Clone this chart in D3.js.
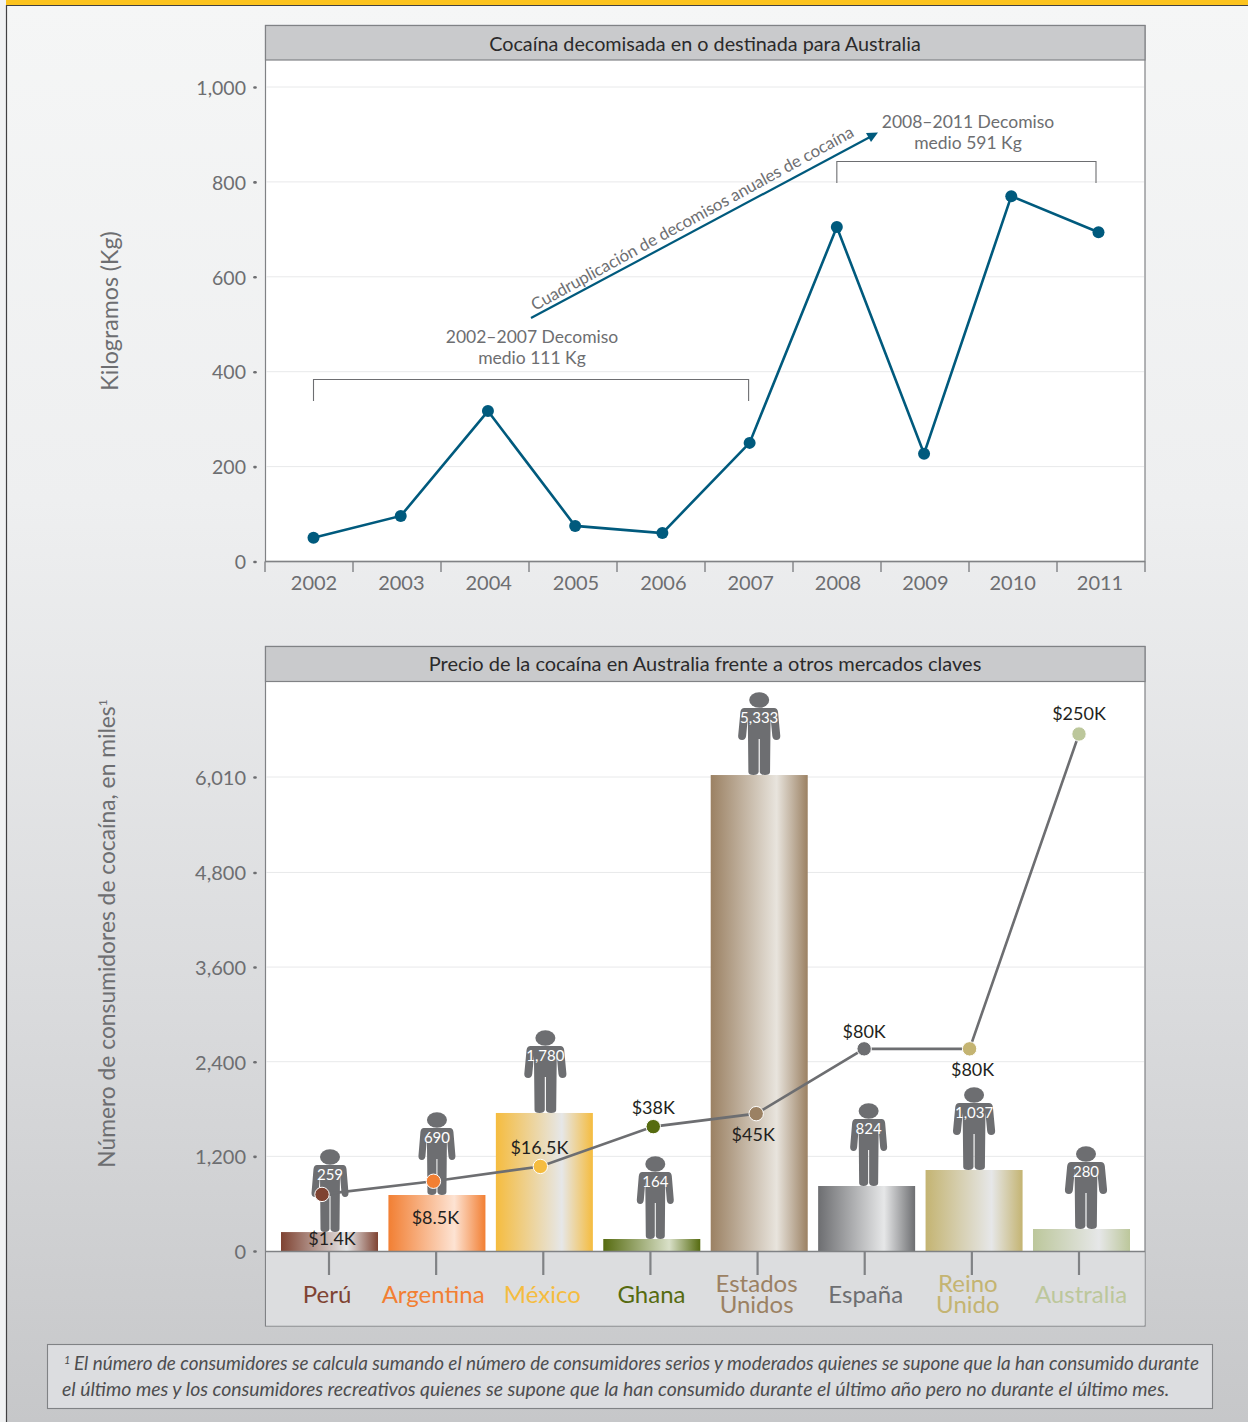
<!DOCTYPE html>
<html lang="es">
<head>
<meta charset="utf-8">
<script src="https://cdn.jsdelivr.net/npm/d3@7"></script>
<style>
html,body{margin:0;padding:0;background:#f1f2f3}
svg{display:block}
text{font-family:Lato,"Open Sans",sans-serif}
</style>
</head>
<body>
<svg id="c" width="1248" height="1422"></svg>
<script>
// ---- data ----
const years = [2002,2003,2004,2005,2006,2007,2008,2009,2010,2011];
const seizuresKg = [50,96,317,75,60,250,705,227,770,694];
const seizureTicks = [0,200,400,600,800,1000];
const countries = ["Perú","Argentina","México","Ghana","Estados Unidos","España","Reino Unido","Australia"];
const barHeights = [240,710,1750,152,6035,824,1027,279];
const consumerLabels = ["259","690","1,780","164","5,333","824","1,037","280"];
const priceK = [1.4,8.5,16.5,38,45,80,80,250];
const priceLabels = ["$1.4K","$8.5K","$16.5K","$38K","$45K","$80K","$80K","$250K"];
const consumerTicks = [0,1200,2400,3600,4800,6010];
const countryColors = ["#7f4332","#f27f33","#f5bc3f","#566b10","#9b8163","#6d6e71","#c4b472","#bcc79b"];
const countryHighlights = ["#e6e7e8","#fde3d3","#e6e7e8","#d9e0c8","#e8e4dd","#e6e7e8","#e6e7e8","#e6e7e8"];

// ---- drawing ----
const svg = d3.select("#c");
const defs = svg.append("defs");
const GREY = "#6d6e71", LINE = "#808285", BLUE = "#005a7d", GRID = "#e8e9ea";

const bg = defs.append("linearGradient").attr("id","bg").attr("x1",0).attr("y1",0).attr("x2",0).attr("y2",1);
[[0,"#f5f6f6"],[0.35,"#eeeff0"],[0.7,"#dadbdd"],[1,"#c6c7c9"]].forEach(s=>bg.append("stop").attr("offset",s[0]).attr("stop-color",s[1]));
countries.forEach((c,i)=>{
  const g = defs.append("linearGradient").attr("id","bar"+i);
  g.append("stop").attr("offset",0).attr("stop-color",countryColors[i]);
  g.append("stop").attr("offset",0.68).attr("stop-color",countryHighlights[i]);
  g.append("stop").attr("offset",1).attr("stop-color",countryColors[i]);
});

// page frame
svg.append("rect").attr("width",1248).attr("height",1422).attr("fill","#f1f2f3");
svg.append("rect").attr("x",6).attr("y",5).attr("width",1242).attr("height",1417).attr("fill","url(#bg)");
svg.append("rect").attr("x",6).attr("y",0).attr("width",1242).attr("height",5).attr("fill","#fcc31e");
svg.append("path").attr("d","M1248,5.5H6.5V1422").attr("fill","none").attr("stroke","#414042").attr("stroke-width",1.2);

function panel(top, headH, bottom, title, size){
  svg.append("rect").attr("x",265.5).attr("y",top).attr("width",879.5).attr("height",bottom-top).attr("fill","#fff").attr("stroke",LINE).attr("stroke-width",1.2);
  svg.append("rect").attr("x",265.5).attr("y",top).attr("width",879.5).attr("height",headH).attr("fill","#c9cacc").attr("stroke",LINE).attr("stroke-width",1.2);
  svg.append("text").attr("x",705).attr("y",top+headH/2+6.5).attr("text-anchor","middle")
    .attr("font-size",size).attr("fill","#2b2a2b").text(title);
}

// ---- top chart ----
panel(25.5,34.5,561.5,"Cocaína decomisada en o destinada para Australia",19.8);
svg.select("text").attr("y",50.5);
const yTop = d3.scaleLinear().domain([0,1000]).range([561.5,87]);
const xTop = d3.scalePoint().domain(years).range([313.5,1099.5]);
const xMark = d3.scalePoint().domain(years).range([313.5,1098.5]);
const xTopBand = d3.scaleBand().domain(years).range([265,1145]);

svg.append("g").selectAll("line").data(seizureTicks.slice(1)).join("line")
  .attr("x1",266).attr("x2",1144).attr("y1",d=>yTop(d)).attr("y2",d=>yTop(d)).attr("stroke",GRID).attr("stroke-width",1);

function styleLeftAxis(g){
  g.select(".domain").remove();
  g.selectAll(".tick line").attr("x1",-10.5).attr("x2",-9.5).attr("stroke",GREY).attr("stroke-width",2.6).attr("stroke-linecap","round");
  g.selectAll(".tick text").attr("x",-19).attr("y",1).attr("fill",GREY);
}
svg.append("g").attr("transform","translate(265,0)")
  .call(d3.axisLeft(yTop).tickValues(seizureTicks).tickFormat(d3.format(",")))
  .call(styleLeftAxis).attr("font-size",19.5).attr("font-family","Lato");

// x axis: labels on the points, tick separators on the year bands
svg.append("line").attr("x1",265).attr("x2",1145).attr("y1",561.5).attr("y2",561.5).attr("stroke",LINE).attr("stroke-width",1.4);
svg.append("g").selectAll("line").data([...years.map(y=>xTopBand(y)),1145]).join("line")
  .attr("x1",d=>d).attr("x2",d=>d).attr("y1",561.5).attr("y2",572).attr("stroke",LINE).attr("stroke-width",1.4);
svg.append("g").attr("transform","translate(0,561.5)")
  .call(d3.axisBottom(xTop).tickSize(0).tickPadding(14))
  .call(g=>{g.select(".domain").remove();g.selectAll(".tick text").attr("fill",GREY);})
  .attr("font-size",20).attr("font-family","Lato");

svg.append("text").attr("transform","translate(118,311) rotate(-90)").attr("text-anchor","middle")
  .attr("font-size",23.2).attr("fill",GREY).text("Kilogramos (Kg)");

const seizureRows = years.map((y,i)=>({y,v:seizuresKg[i]}));
svg.append("path").datum(seizureRows)
  .attr("d",d3.line().x(d=>xMark(d.y)).y(d=>yTop(d.v)))
  .attr("fill","none").attr("stroke",BLUE).attr("stroke-width",2.6);
svg.append("g").selectAll("circle").data(seizureRows).join("circle")
  .attr("cx",d=>xMark(d.y)).attr("cy",d=>yTop(d.v)).attr("r",6).attr("fill",BLUE);

// annotations
function bracket(y0,y1,top,drop,endShift){
  svg.append("path").attr("d",`M${xMark(y0)},${top+drop}V${top}H${xMark(y1)+endShift}V${top+drop}`)
    .attr("fill","none").attr("stroke",GREY).attr("stroke-width",1.1);
}
bracket(2002,2007,379.5,21.5,-1);
bracket(2008,2011,161.5,21.5,-2.5);
function note(x,y,lines){
  lines.forEach((t,i)=>svg.append("text").attr("x",x).attr("y",y+i*21).attr("text-anchor","middle")
    .attr("font-size",17.5).attr("fill",GREY).text(t));
}
note(532,343,["2002–2007 Decomiso","medio 111 Kg"]);
note(968,128,["2008–2011 Decomiso","medio 591 Kg"]);
svg.append("line").attr("x1",531).attr("y1",318).attr("x2",870).attr("y2",137).attr("stroke",BLUE).attr("stroke-width",2.2);
svg.append("path").attr("d","M878,132.5L866,133L871,142Z").attr("fill",BLUE);
svg.append("text").attr("transform","translate(535,311) rotate(-28.7)").attr("font-size",16.8).attr("fill",GREY)
  .text("Cuadruplicación de decomisos anuales de cocaína");

// ---- bottom chart ----
panel(646.5,35,1326,"Precio de la cocaína en Australia frente a otros mercados claves",20);
svg.append("rect").attr("x",266).attr("y",1251).attr("width",878.5).attr("height",74.5).attr("fill","#dcdddf");
const yBar = d3.scaleLinear().domain([0,6010]).range([1251,777]);
const xBar = d3.scaleBand().domain(countries).range([281,1130]).paddingInner(0.097);
const xTick = d3.scalePoint().domain(countries).range([329,1079]);
const yPrice = d3.scaleLinear().domain([0,250]).range([1197,734]);
const barMid = c => xBar(c)+xBar.bandwidth()/2;
// small layout nudges away from the bar centre, as in the source graphic
const dotNudge = [-7.5,-3.5,-4,1.5,-3,-2.5,-4.5,-2.5];
const personNudge = [0.5,0,1,3.5,0,2,0,4.5];
const catNudge = [-2,-3,-1,1,-1,1,-4,2];
const priceLabelOffset = [[10,51],[2,43],[-1,-12],[0,-13],[-3,27],[0,-11],[3,27],[0,-14]];

svg.append("g").selectAll("line").data(consumerTicks.slice(1)).join("line")
  .attr("x1",266).attr("x2",1144).attr("y1",d=>yBar(d)).attr("y2",d=>yBar(d)).attr("stroke",GRID).attr("stroke-width",1);
svg.append("g").attr("transform","translate(265,0)")
  .call(d3.axisLeft(yBar).tickValues(consumerTicks).tickFormat(d3.format(",")))
  .call(styleLeftAxis).attr("font-size",20).attr("font-family","Lato");

const axisTitle = svg.append("text").attr("transform","translate(115,933.5) rotate(-90)").attr("text-anchor","middle")
  .attr("font-size",22.8).attr("fill",GREY);
axisTitle.append("tspan").text("Número de consumidores de cocaína, en miles");
axisTitle.append("tspan").attr("font-size",12).attr("dy",-8).text("1");

const rows = countries.map((c,i)=>({c,i,h:barHeights[i],n:consumerLabels[i],p:priceK[i],pl:priceLabels[i]}));
const dotX = d => barMid(d.c)+dotNudge[d.i];

svg.append("g").selectAll("rect").data(rows).join("rect")
  .attr("x",d=>xBar(d.c)).attr("width",xBar.bandwidth())
  .attr("y",d=>yBar(d.h)).attr("height",d=>yBar(0)-yBar(d.h))
  .attr("fill",d=>`url(#bar${d.i})`);

svg.append("line").attr("x1",265).attr("x2",1145).attr("y1",1251.5).attr("y2",1251.5).attr("stroke",LINE).attr("stroke-width",1.4);
svg.append("g").selectAll("line").data(rows).join("line")
  .attr("x1",d=>xTick(d.c)).attr("x2",d=>xTick(d.c)).attr("y1",1251.5).attr("y2",1275)
  .attr("stroke",LINE).attr("stroke-width",2.2);

// person icons standing on the bars
const person = "M-13,-67L13,-67Q16,-67 16.5,-63L18.5,-39Q18.5,-35 15,-35Q12,-35 11.5,-39L10,-57L9.5,-3Q9.5,0 5,0Q1,0 .5,-3L.5,-36L-.5,-36L-.5,-3Q-1,0 -5,0Q-9.5,0 -9.5,-3L-10,-57L-11.5,-39Q-12,-35 -15,-35Q-18.5,-35 -18.5,-39L-16.5,-63Q-16,-67 -13,-67Z";
const isWide = d => d.n.length>3 || d.c==="Australia";
const persons = svg.append("g").selectAll("g").data(rows).join("g")
  .attr("transform",d=>`translate(${barMid(d.c)+personNudge[d.i]},${yBar(d.h)})`);
persons.append("path").attr("d",person).attr("fill",GREY).attr("transform",d=>`scale(${isWide(d)?1.14:1},1)`);
persons.append("ellipse").attr("cy",-75).attr("rx",10).attr("ry",7.8).attr("fill",GREY);
persons.append("text").attr("y",-52).attr("text-anchor","middle").attr("font-size",15).attr("fill","#fff").text(d=>d.n);

// price line
svg.append("path").datum(rows)
  .attr("d",d3.line().x(dotX).y(d=>yPrice(d.p)))
  .attr("fill","none").attr("stroke",GREY).attr("stroke-width",2.6);
svg.append("g").selectAll("circle").data(rows).join("circle")
  .attr("cx",dotX).attr("cy",d=>yPrice(d.p)).attr("r",7.2)
  .attr("fill",d=>countryColors[d.i]).attr("stroke","#fff").attr("stroke-width",1);
svg.append("g").selectAll("text").data(rows).join("text")
  .attr("x",d=>dotX(d)+priceLabelOffset[d.i][0]).attr("y",d=>yPrice(d.p)+priceLabelOffset[d.i][1])
  .attr("text-anchor","middle").attr("font-size",18).attr("fill","#231f20").text(d=>d.pl);

// category labels
const catLabels = svg.append("g").selectAll("text").data(rows).join("text")
  .attr("text-anchor","middle").attr("font-size",24).attr("fill",d=>countryColors[d.i])
  .attr("transform",d=>`translate(${xTick(d.c)+catNudge[d.i]},0)`);
catLabels.each(function(d){
  const parts = d.c.includes(" ") ? d.c.split(" ") : [d.c];
  const t = d3.select(this);
  parts.forEach((p,i)=>t.append("tspan").attr("x",0)
    .attr("y",parts.length>1 ? 1292+i*21 : 1303).text(p));
});

// footnote
svg.append("rect").attr("x",47.5).attr("y",1344.5).attr("width",1165).attr("height",64).attr("fill","#dcdde0").attr("stroke",LINE).attr("stroke-width",1.1);
svg.append("text").attr("x",64).attr("y",1364).attr("font-size",11).attr("font-style","italic").attr("fill","#4d4d4f").text("1");
svg.append("text").attr("x",74).attr("y",1370).attr("font-size",18.87).attr("font-style","italic").attr("fill","#4d4d4f")
  .text("El número de consumidores se calcula sumando el número de consumidores serios y moderados quienes se supone que la han consumido durante");
svg.append("text").attr("x",62).attr("y",1396).attr("font-size",19.43).attr("font-style","italic").attr("fill","#4d4d4f")
  .text("el último mes y los consumidores recreativos quienes se supone que la han consumido durante el último año pero no durante el último mes.");
</script>
</body>
</html>
